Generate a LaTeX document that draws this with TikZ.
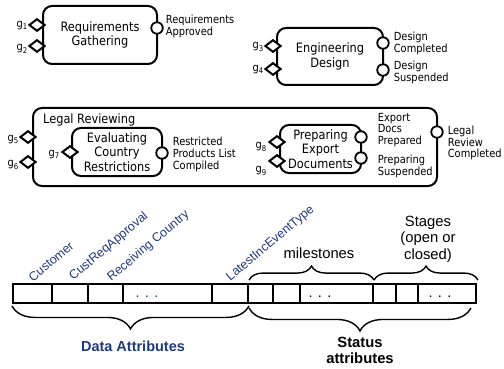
\documentclass[tikz,border=0pt]{standalone}
\usepackage{fontspec}
\setmainfont{Liberation Sans}
\newfontfamily\boxfont[FakeStretch=0.88]{DejaVu Sans}
\usetikzlibrary{positioning, calc}
\usetikzlibrary{shapes.geometric, decorations.pathreplacing}
\definecolor{attrblue}{RGB}{31,56,128}

\begin{document}
\begin{tikzpicture}[x=1pt, y=-1pt]
    \tikzset{task/.style = {rectangle, rounded corners=9pt, draw=black, line width=2pt,
                           inner sep=0pt, align=center,
                           font=\boxfont\fontsize{12.9}{14.5}\selectfont}}
    \tikzset{entry/.style = {diamond, draw=black, fill=white, line width=2pt,
                            inner sep=0pt, minimum width=16pt, minimum height=12.5pt}}
    \tikzset{exitpt/.style = {circle, draw=black, fill=white, line width=1.8pt,
                             inner sep=0pt, minimum size=11.5pt}}
    \tikzset{glabel/.style = {inner sep=0pt, font=\boxfont\fontsize{11.2}{11.7}\selectfont}}
    \tikzset{elabel/.style = {glabel, align=left}}
    \tikzset{cell/.style = {rectangle, draw=black, line width=1.9pt, inner sep=0pt, minimum height=19pt}}
    \tikzset{attrlabel/.style = {inner sep=1pt, rotate=40, anchor=south west, text=attrblue,
                                font=\fontsize{12.5}{14}\selectfont}}
    \tikzset{grouplabel/.style = {inner sep=0pt, align=center, font=\fontsize{14.8}{16.5}\selectfont}}
    \tikzset{brace/.style = {line width=1.4pt, decorate, decoration={brace, amplitude=#1}}}

    \useasboundingbox (0,0) rectangle (504,369);

    % lifecycle
    \node (reqG) [task, minimum width=114pt, minimum height=58pt] at (100,35) {Requirements\\Gathering};
    \node (engD) [task, minimum width=106pt, minimum height=57pt] at (330,56.5) {Engineering\\Design};
    \node (legal) [task, minimum width=404pt, minimum height=78pt] at (235,147) {};
    \node (legalLbl) [glabel, anchor=west, font=\boxfont\fontsize{12.9}{14.5}\selectfont] at (43,120) {Legal Reviewing};
    \node (evalC) [task, minimum width=90pt, minimum height=48pt] at (117,152) {Evaluating\\Country\\Restrictions};
    \node (prepE) [task, minimum width=81pt, minimum height=48pt] at (320.5,149) {Preparing\\Export\\Documents};

    \node (g1) [entry] at (37,25) {};
    \node (g2) [entry] at (37,46) {};
    \node (g3) [entry] at (273,46) {};
    \node (g4) [entry] at (273,69) {};
    \node (g5) [entry] at (28,137) {};
    \node (g6) [entry] at (28,162) {};
    \node (g7) [entry] at (70,152) {};
    \node (g8) [entry] at (277,142) {};
    \node (g9) [entry] at (277,161) {};

    \node (g1lbl) [glabel, left=0pt of g1, yshift=-1pt] {g\textsubscript{1}};
    \node (g2lbl) [glabel, left=0pt of g2, yshift=-3pt] {g\textsubscript{2}};
    \node (g3lbl) [glabel, left=0pt of g3, yshift=-1pt] {g\textsubscript{3}};
    \node (g4lbl) [glabel, left=0pt of g4, yshift=-1pt] {g\textsubscript{4}};
    \node (g5lbl) [glabel, left=0pt of g5, yshift=-3pt] {g\textsubscript{5}};
    \node (g6lbl) [glabel, left=0pt of g6, yshift=-3pt] {g\textsubscript{6}};
    \node (g7lbl) [glabel, left=1pt of g7, yshift=-3pt] {g\textsubscript{7}};
    \node (g8lbl) [glabel, left=1pt of g8, yshift=-5pt] {g\textsubscript{8}};
    \node (g9lbl) [glabel, left=1pt of g9, yshift=-10pt] {g\textsubscript{9}};

    \node (reqOut) [exitpt] at (157,28) {};
    \node (engDone) [exitpt] at (383,43) {};
    \node (engSusp) [exitpt] at (383,70) {};
    \node (evalOut) [exitpt] at (162,153) {};
    \node (prepDone) [exitpt] at (361,137) {};
    \node (prepSusp) [exitpt] at (361,158) {};
    \node (legalOut) [exitpt] at (437,132) {};

    \node (reqOutLbl) [elabel, right=2pt of reqOut, yshift=1.5pt] {Requirements\\Approved};
    \node (engDoneLbl) [elabel, right=4pt of engDone, yshift=-0.5pt] {Design\\Completed};
    \node (engSuspLbl) [elabel, right=4pt of engSusp, yshift=-2.5pt] {Design\\Suspended};
    \node (evalOutLbl) [elabel, right=4pt of evalOut, yshift=-1.5pt] {Restricted\\Products List\\Compiled};
    \node (prepDoneLbl) [elabel, right=10pt of prepDone, yshift=7pt] {Export\\Docs\\Prepared};
    \node (prepSuspLbl) [elabel, right=10pt of prepSusp, yshift=-8.5pt] {Preparing\\Suspended};
    \node (legalOutLbl) [elabel, right=4pt of legalOut, yshift=-11pt] {Legal\\Review\\Completed};

    % artifact record
    \foreach \nm/\l/\r in {customer/13/52, custreq/52/88, recv/88/123, datadots/123/212,
                           latest/212/248, ms1/248/273, ms2/273/300, msdots/300/373,
                           st1/373/396, st2/396/418, stdots/418/476}
        \node (\nm) [cell, minimum width={(\r-\l)*1pt}] at ({(\l+\r)/2},293.5) {};

    \node (dots1) [inner sep=0pt, text=attrblue, font=\fontsize{14.5}{14.5}\selectfont] at (147,297) {. . .};
    \node (dots2) [inner sep=0pt, font=\fontsize{14.5}{14.5}\selectfont] at (320,297) {. . .};
    \node (dots3) [inner sep=0pt, font=\fontsize{14.5}{14.5}\selectfont] at (440,297) {. . .};

    \node (customerLbl) [attrlabel] at (33,284) {Customer};
    \node (custreqLbl) [attrlabel] at (75,284) {CustReqApproval};
    \node (recvLbl) [attrlabel] at (113,285) {Receiving Country};
    \node (latestLbl) [attrlabel] at (232,285) {LatestIncEventType};

    \draw [brace=23pt, decoration={mirror, raise=2pt}] (customer.south west) -- (latest.south east);
    \draw [brace=23pt, decoration={mirror, raise=4pt}] ($(ms1.south west)+(2,0)$) -- ($(stdots.south east)+(-6,0)$);
    \draw [brace=14pt, decoration={raise=3pt}] ($(ms1.north west)+(2,0)$) -- (msdots.north east);
    \draw [brace=14pt, decoration={raise=3pt}] ($(st1.north west)+(2,0)$) -- ($(stdots.north east)+(1,0)$);

    \node (milestonesLbl) [grouplabel] at (319,253) {milestones};
    \node (stagesLbl) [grouplabel] at (428,239) {Stages\\(open or\\closed)};
    \node (dataLbl) [grouplabel, text=attrblue, font=\bfseries\fontsize{14.5}{16}\selectfont] at (133,346) {Data Attributes};
    \node (statusLbl) [grouplabel, font=\bfseries\fontsize{14.8}{16}\selectfont] at (360,350) {Status\\attributes};

\end{tikzpicture}
\end{document}
